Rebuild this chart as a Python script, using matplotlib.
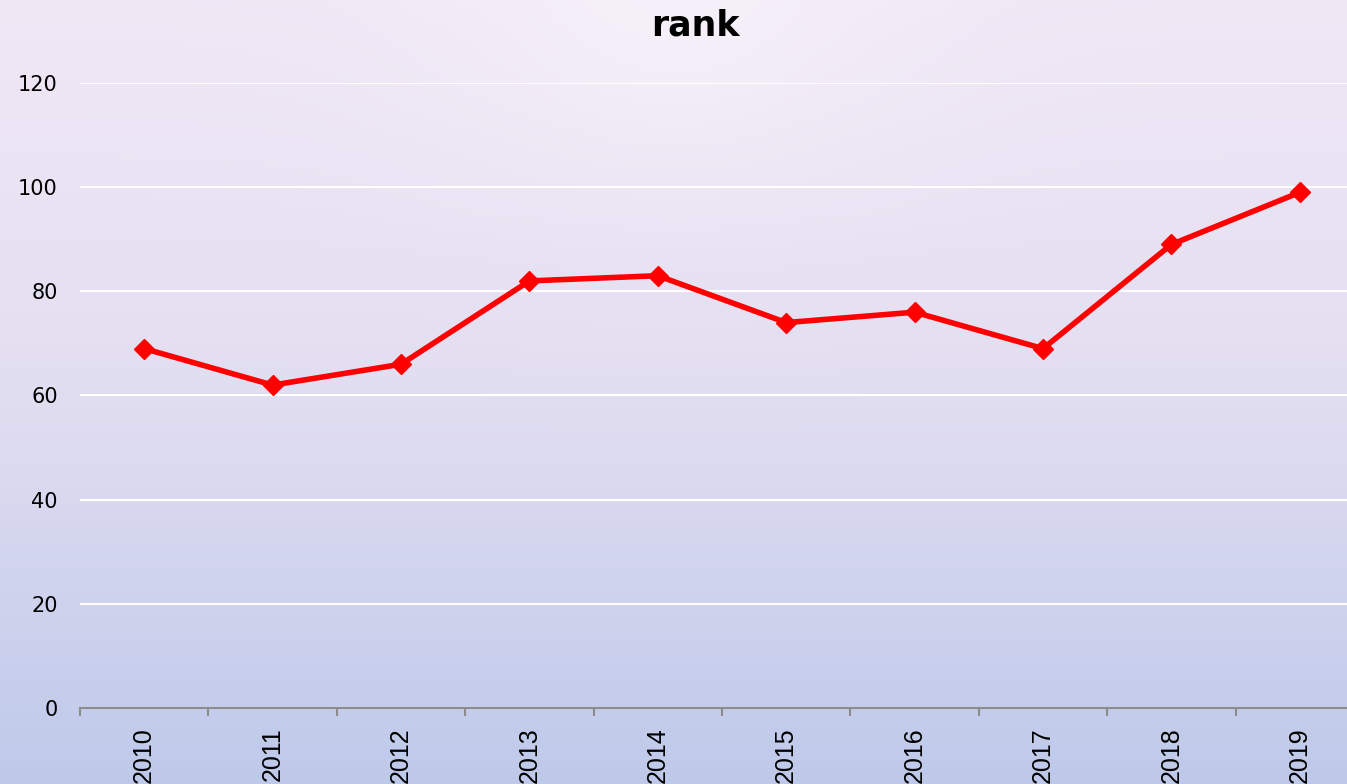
import matplotlib.pyplot as plt
import numpy as np

years = ['2010', '2011', '2012', '2013', '2014', '2015', '2016', '2017', '2018', '2019']
rank = [69, 62, 66, 82, 83, 74, 76, 69, 89, 99]
y_ticks = [0, 20, 40, 60, 80, 100, 120]


def background(fig):
    # vertical lavender gradient with a soft light spot near the top centre
    h, w = 200, 300
    t = np.linspace(0, 1, h)[:, None]
    top = np.array([241, 232, 246]) / 255
    mid = np.array([226, 222, 241]) / 255
    bot = np.array([190, 201, 234]) / 255
    col = np.where(t[..., None] < 0.5,
                   top + (mid - top) * (t[..., None] / 0.5),
                   mid + (bot - mid) * ((t[..., None] - 0.5) / 0.5))
    col = np.broadcast_to(col, (h, w, 3)).copy()
    xx, yy = np.meshgrid(np.linspace(-1, 1, w), np.linspace(0, 1, h))
    glow = np.exp(-((xx / 0.35) ** 2 + (yy / 0.25) ** 2))[..., None]
    col = col + (1 - col) * 0.35 * glow
    bg = fig.add_axes([0, 0, 1, 1], zorder=-10)
    bg.imshow(col, aspect='auto', extent=[0, 1, 0, 1])
    bg.axis('off')


def main():
    fig = plt.figure(figsize=(13.47, 7.84), dpi=100)
    background(fig)

    ax = fig.add_axes([80 / 1347, 1 - 708 / 784, 1284 / 1347, 625 / 784])
    ax.patch.set_alpha(0)
    x = np.arange(len(years))
    ax.plot(x, rank, color='#ff0000', lw=4, marker='D', ms=10,
            solid_joinstyle='round', zorder=3)

    ax.set_xlim(-0.5, len(years) - 0.5)
    ax.set_ylim(0, 120)
    ax.set_yticks(y_ticks)
    ax.set_yticklabels([str(v) for v in y_ticks], fontsize=15, family='DejaVu Sans')
    ax.tick_params(axis='y', length=0, pad=16)
    ax.grid(axis='y', color='white', lw=1.5, zorder=1)

    ax.set_xticks(x)
    ax.set_xticklabels(years, rotation=90, fontsize=18, family='Liberation Sans')
    ax.tick_params(axis='x', length=0, pad=14)
    ax.set_xticks(np.arange(len(years) + 1) - 0.5, minor=True)
    ax.tick_params(axis='x', which='minor', length=6, width=1.5, color='#8c8c8c', direction='out')

    for s in ['top', 'right', 'left']:
        ax.spines[s].set_visible(False)
    ax.spines['bottom'].set_color('#8c8c8c')
    ax.spines['bottom'].set_linewidth(1.5)
    ax.spines['bottom'].set_zorder(2)
    ax.set_axisbelow(True)

    fig.text(695 / 1347, 1 - 25 / 784, 'rank', ha='center', va='center',
             fontsize=25, fontweight='bold', family='DejaVu Sans')

    fig.savefig('out.png', dpi=100)


if __name__ == '__main__':
    main()
